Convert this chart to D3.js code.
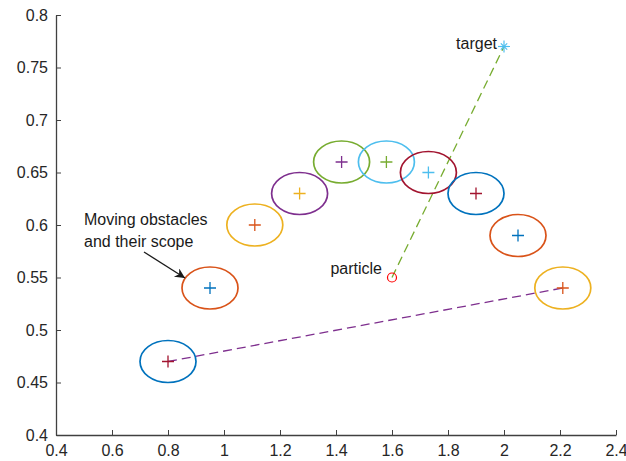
<!DOCTYPE html>
<html>
<head>
<meta charset="utf-8">
<script src="https://cdn.jsdelivr.net/npm/d3@7"></script>
<style>
  body { margin: 0; background: #fff; }
  text { font-family: "Liberation Sans", Arial, sans-serif; }
</style>
</head>
<body>
<script>
// obstacle centres and their colours (MATLAB default order)
const obsX = [0.8, 0.95, 1.11, 1.27, 1.42, 1.58, 1.73, 1.90, 2.05, 2.21];
const obsY = [0.47, 0.54, 0.60, 0.63, 0.66, 0.66, 0.65, 0.63, 0.59, 0.54];
const crossColors = ["#A2142F", "#0072BD", "#D95319", "#EDB120", "#7E2F8E", "#77AC30", "#4DBEEE", "#A2142F", "#0072BD", "#D95319"];
const ringColors = ["#0072BD", "#D95319", "#EDB120", "#7E2F8E", "#77AC30", "#4DBEEE", "#A2142F", "#0072BD", "#D95319", "#EDB120"];
const scopeRx = 0.1, scopeRy = 0.02;

const particle = [1.6, 0.55];
const target = [2.0, 0.77];
const obsPath = [[0.8, 0.47], [2.21, 0.54]];

const xTicks = [0.4, 0.6, 0.8, 1, 1.2, 1.4, 1.6, 1.8, 2, 2.2, 2.4];
const yTicks = [0.4, 0.45, 0.5, 0.55, 0.6, 0.65, 0.7, 0.75, 0.8];

const width = 626, height = 461;
const margin = { left: 56, right: 10, top: 15, bottom: 26 };

const svg = d3.select("body").append("svg")
    .attr("width", width)
    .attr("height", height);

const x = d3.scaleLinear().domain([0.4, 2.4]).range([margin.left, width - margin.right]);
const y = d3.scaleLinear().domain([0.4, 0.8]).range([height - margin.bottom, margin.top]);

// axes (ticks point inward like MATLAB)
const axisColor = "#404040";
const gx = svg.append("g")
    .attr("transform", `translate(0,${y(0.4)})`)
    .call(d3.axisBottom(x).tickValues(xTicks).tickFormat(d3.format("")).tickSizeInner(-5).tickSizeOuter(0).tickPadding(10));
const gy = svg.append("g")
    .attr("transform", `translate(${x(0.4)},0)`)
    .call(d3.axisLeft(y).tickValues(yTicks).tickFormat(d3.format("")).tickSizeInner(-5).tickSizeOuter(0).tickPadding(8));
[gx, gy].forEach(g => {
    g.select(".domain").attr("stroke", axisColor).attr("stroke-width", 1.3);
    g.selectAll(".tick line").attr("stroke", axisColor).attr("stroke-width", 1);
    g.selectAll(".tick text").attr("fill", "#262626").style("font-size", "16px");
});

// paths
const line = d3.line().x(d => x(d[0])).y(d => y(d[1]));
svg.append("path")
    .attr("d", line(obsPath))
    .attr("fill", "none")
    .attr("stroke", "#7E2F8E")
    .attr("stroke-width", 1.3)
    .attr("stroke-dasharray", "9,5");
svg.append("path")
    .attr("d", line([particle, target]))
    .attr("fill", "none")
    .attr("stroke", "#77AC30")
    .attr("stroke-width", 1.3)
    .attr("stroke-dasharray", "9,5");

// obstacles and their scope
const obs = obsX.map((v, i) => ({ x: v, y: obsY[i], c: crossColors[i], r: ringColors[i] }));
svg.selectAll(".scope").data(obs).enter().append("ellipse")
    .attr("cx", d => x(d.x))
    .attr("cy", d => y(d.y))
    .attr("rx", d => x(d.x + scopeRx) - x(d.x))
    .attr("ry", d => y(d.y) - y(d.y + scopeRy))
    .attr("fill", "none")
    .attr("stroke", d => d.r)
    .attr("stroke-width", 1.7);
svg.selectAll(".cross").data(obs).enter().append("path")
    .attr("transform", d => `translate(${x(d.x)},${y(d.y)})`)
    .attr("d", "M-6,0H6M0,-6V6")
    .attr("stroke", d => d.c)
    .attr("stroke-width", 1.3);

// particle
svg.append("circle")
    .attr("cx", x(particle[0]))
    .attr("cy", y(particle[1]))
    .attr("r", 4.5)
    .attr("fill", "none")
    .attr("stroke", "#FF0000")
    .attr("stroke-width", 1.2);

// target star
const star = svg.append("g").attr("transform", `translate(${x(target[0])},${y(target[1])})`)
    .attr("stroke", "#4DBEEE").attr("stroke-width", 1.2);
[0, 45, 90, 135].forEach(a => {
    const r = a % 90 === 0 ? 6 : 4.5;
    const c = Math.cos(a * Math.PI / 180) * r, s = Math.sin(a * Math.PI / 180) * r;
    star.append("line").attr("x1", -c).attr("y1", -s).attr("x2", c).attr("y2", s);
});

// labels
svg.append("text")
    .attr("x", x(target[0]) - 7).attr("y", y(target[1]) + 2)
    .attr("text-anchor", "end").style("font-size", "16px").attr("fill", "#1a1a1a")
    .text("target");
svg.append("text")
    .attr("x", x(particle[0]) - 10).attr("y", y(particle[1]) - 4)
    .attr("text-anchor", "end").style("font-size", "16px").attr("fill", "#1a1a1a")
    .text("particle");

const note = svg.append("text").style("font-size", "16px").attr("fill", "#1a1a1a");
note.append("tspan").attr("x", 84).attr("y", 225).text("Moving obstacles");
note.append("tspan").attr("x", 84).attr("y", 247).text("and their scope");

// arrow
svg.append("defs").append("marker")
    .attr("id", "head")
    .attr("viewBox", "0 0 10 10")
    .attr("refX", 10).attr("refY", 5)
    .attr("markerWidth", 14).attr("markerHeight", 10)
    .attr("markerUnits", "userSpaceOnUse")
    .attr("orient", "auto")
    .append("path").attr("d", "M0,0L10,5L0,10L3,5Z").attr("fill", "#1a1a1a");
svg.append("line")
    .attr("x1", 144).attr("y1", 252)
    .attr("x2", 185).attr("y2", 278)
    .attr("stroke", "#1a1a1a").attr("stroke-width", 1.3)
    .attr("marker-end", "url(#head)");
</script>
</body>
</html>
